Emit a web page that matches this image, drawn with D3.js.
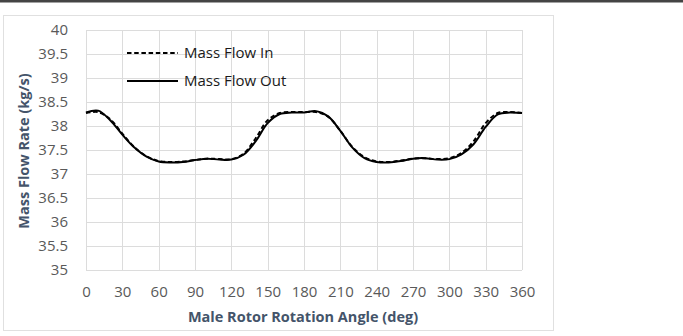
<!DOCTYPE html>
<html>
<head>
<meta charset="utf-8">
<script src="https://cdn.jsdelivr.net/npm/d3@7"></script>
<style>
  body { margin: 0; background: #fff; }
  svg text { font-family: "Open Sans", sans-serif; }
</style>
</head>
<body>
<div id="chart"></div>
<script>
// angles (deg) every 10
const angles = d3.range(0, 361, 10);

// Mass Flow In (dashed)
const flowIn = [38.27, 38.29, 38.14, 37.84, 37.56, 37.37, 37.27, 37.25, 37.26, 37.29,
  37.32, 37.31, 37.31, 37.42, 37.74, 38.12, 38.27, 38.29, 38.29, 38.29,
  38.19, 37.90, 37.56, 37.35, 37.26, 37.25, 37.28, 37.32, 37.33, 37.31,
  37.33, 37.44, 37.68, 38.06, 38.27, 38.29, 38.27];

// Mass Flow Out (solid)
const flowOut = [38.28, 38.32, 38.12, 37.82, 37.55, 37.36, 37.26, 37.24, 37.25, 37.29,
  37.32, 37.30, 37.30, 37.40, 37.68, 38.06, 38.25, 38.28, 38.28, 38.31,
  38.20, 37.90, 37.55, 37.33, 37.25, 37.24, 37.27, 37.32, 37.33, 37.30,
  37.31, 37.41, 37.62, 37.98, 38.24, 38.28, 38.27];

const xTicks = d3.range(0, 361, 30);
const yTicks = d3.range(35, 40.01, 0.5);

const W = 683, H = 336;
const svg = d3.select("#chart").append("svg")
  .attr("width", W).attr("height", H);

// top rule and chart frame
svg.append("rect").attr("x", 0).attr("y", 0).attr("width", W).attr("height", 2.5).attr("fill", "#444");
svg.append("rect").attr("x", 3.5).attr("y", 15.5).attr("width", 550).attr("height", 315)
  .attr("fill", "none").attr("stroke", "#e0e0e0");

const x = d3.scaleLinear().domain([0, 360]).range([86, 522]);
const y = d3.scaleLinear().domain([35, 40]).range([270, 30]);

// grid
svg.append("g").selectAll("line").data(xTicks).join("line")
  .attr("x1", d => Math.round(x(d)) + 0.5).attr("x2", d => Math.round(x(d)) + 0.5)
  .attr("y1", y(40)).attr("y2", y(35))
  .attr("stroke", "#dcdcdc");
svg.append("g").selectAll("line").data(yTicks).join("line")
  .attr("x1", x(0)).attr("x2", x(360))
  .attr("y1", d => Math.round(y(d)) + 0.5).attr("y2", d => Math.round(y(d)) + 0.5)
  .attr("stroke", "#dcdcdc");

// axes labels
const xAxis = svg.append("g").attr("transform", "translate(0,270)")
  .call(d3.axisBottom(x).tickValues(xTicks).tickSize(0).tickPadding(16));
xAxis.select(".domain").remove();
xAxis.selectAll("text").attr("font-size", 15).attr("fill", "#595959")
  .style("font-family", "Open Sans, sans-serif");

const yAxis = svg.append("g").attr("transform", "translate(68,0)")
  .call(d3.axisLeft(y).tickValues(yTicks).tickSize(0).tickPadding(0)
    .tickFormat(d3.format("~g")));
yAxis.select(".domain").remove();
yAxis.selectAll("text").attr("font-size", 15).attr("fill", "#595959")
  .style("font-family", "Open Sans, sans-serif");

// axis titles
svg.append("text").attr("x", 303).attr("y", 322).attr("text-anchor", "middle")
  .attr("font-size", 14.5).attr("font-weight", "bold").attr("fill", "#44546a")
  .text("Male Rotor Rotation Angle (deg)");
svg.append("text").attr("transform", "translate(29,151) rotate(-90)")
  .attr("text-anchor", "middle")
  .attr("font-size", 14.5).attr("font-weight", "bold").attr("fill", "#44546a")
  .text("Mass Flow Rate (kg/s)");

// lines
const line = d3.line().x((d, i) => x(angles[i])).y(d => y(d)).curve(d3.curveCatmullRom);
svg.append("path").datum(flowOut).attr("d", line)
  .attr("fill", "none").attr("stroke", "#000").attr("stroke-width", 2);
svg.append("path").datum(flowIn).attr("d", line)
  .attr("fill", "none").attr("stroke", "#000").attr("stroke-width", 2)
  .attr("stroke-dasharray", "4.5,2.7");

// legend
const legend = [
  { name: "Mass Flow In", dash: "4.5,2.7", y: 53 },
  { name: "Mass Flow Out", dash: null, y: 81 }
];
const lg = svg.append("g").selectAll("g").data(legend).join("g");
lg.append("line").attr("x1", 127).attr("x2", 178)
  .attr("y1", d => d.y).attr("y2", d => d.y)
  .attr("stroke", "#000").attr("stroke-width", 2)
  .attr("stroke-dasharray", d => d.dash);
lg.append("text").attr("x", 184).attr("y", d => d.y).attr("dy", "0.35em")
  .attr("font-size", 15).attr("fill", "#1a1a1a").text(d => d.name);
</script>
</body>
</html>
